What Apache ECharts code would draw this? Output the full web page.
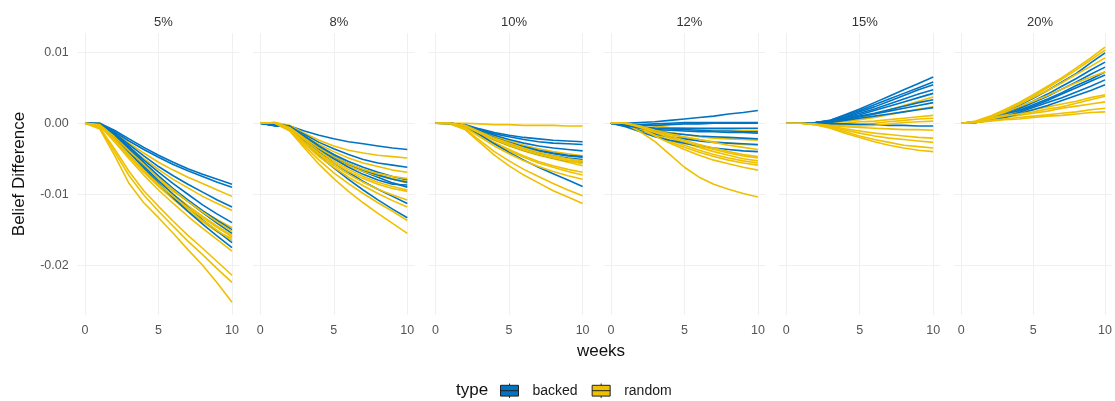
<!DOCTYPE html>
<html><head><meta charset="utf-8">
<script src="https://cdn.jsdelivr.net/npm/echarts@6/dist/echarts.min.js"></script>
<style>html,body{margin:0;padding:0;background:#fff}#c{width:1115px;height:401px}</style>
</head><body><div id="c"></div>
<script>
const weeks = [0,1,2,3,4,5,6,7,8,9,10];
const panels = ['5%','8%','10%','12%','15%','20%'];
const yTicks = [0.01, 0, -0.01, -0.02];
const xTicks = [0, 5, 10];

const backed_5 = [
 [0,0,-0.0010,-0.0022,-0.0034,-0.0045,-0.0055,-0.0064,-0.0072,-0.0079,-0.0086],
 [0,0,-0.0012,-0.0025,-0.0037,-0.0048,-0.0058,-0.0067,-0.0075,-0.0083,-0.0090],
 [0,-0.0002,-0.0014,-0.0030,-0.0046,-0.0061,-0.0074,-0.0086,-0.0097,-0.0108,-0.0118],
 [0,-0.0001,-0.0015,-0.0033,-0.0052,-0.0069,-0.0085,-0.0100,-0.0115,-0.0128,-0.0140],
 [0,-0.0002,-0.0017,-0.0036,-0.0056,-0.0075,-0.0093,-0.0110,-0.0126,-0.0141,-0.0155],
 [0,-0.0001,-0.0018,-0.0038,-0.0060,-0.0081,-0.0100,-0.0118,-0.0136,-0.0152,-0.0168],
 [0,-0.0002,-0.0020,-0.0041,-0.0063,-0.0085,-0.0105,-0.0124,-0.0142,-0.0159,-0.0175],
 [0,-0.0001,-0.0016,-0.0035,-0.0055,-0.0074,-0.0092,-0.0108,-0.0123,-0.0137,-0.0150]
];
const random_5 = [
 [0,0,-0.0013,-0.0028,-0.0042,-0.0055,-0.0066,-0.0076,-0.0085,-0.0094,-0.0103],
 [0,-0.0002,-0.0017,-0.0034,-0.0050,-0.0065,-0.0079,-0.0091,-0.0103,-0.0113,-0.0123],
 [0,-0.0003,-0.0022,-0.0042,-0.0062,-0.0080,-0.0096,-0.0110,-0.0124,-0.0136,-0.0147],
 [0,-0.0002,-0.0021,-0.0043,-0.0064,-0.0083,-0.0100,-0.0116,-0.0131,-0.0145,-0.0158],
 [0,-0.0003,-0.0024,-0.0047,-0.0069,-0.0089,-0.0107,-0.0124,-0.0139,-0.0153,-0.0162],
 [0,-0.0002,-0.0023,-0.0045,-0.0067,-0.0087,-0.0105,-0.0121,-0.0137,-0.0151,-0.0165],
 [0,-0.0004,-0.0026,-0.0050,-0.0073,-0.0094,-0.0113,-0.0131,-0.0148,-0.0164,-0.0180],
 [0,-0.0003,-0.0022,-0.0044,-0.0066,-0.0086,-0.0103,-0.0119,-0.0133,-0.0147,-0.0160],
 [0,-0.0006,-0.0036,-0.0068,-0.0095,-0.0117,-0.0138,-0.0158,-0.0176,-0.0195,-0.0214],
 [0,-0.0006,-0.0040,-0.0074,-0.0101,-0.0124,-0.0145,-0.0166,-0.0185,-0.0205,-0.0224],
 [0,-0.0008,-0.0045,-0.0085,-0.0112,-0.0133,-0.0155,-0.0178,-0.0200,-0.0225,-0.0252],
 [0,-0.0002,-0.0019,-0.0039,-0.0058,-0.0077,-0.0094,-0.0110,-0.0125,-0.0139,-0.0152]
];
const backed_8 = [
 [0,-0.0003,-0.0004,-0.0011,-0.0017,-0.0022,-0.0026,-0.0029,-0.0032,-0.0035,-0.0037],
 [0,-0.0004,-0.0005,-0.0016,-0.0027,-0.0036,-0.0044,-0.0051,-0.0056,-0.0059,-0.0062],
 [0,-0.0002,-0.0004,-0.0018,-0.0032,-0.0044,-0.0054,-0.0062,-0.0069,-0.0075,-0.0080],
 [0,-0.0003,-0.0005,-0.0020,-0.0035,-0.0048,-0.0059,-0.0068,-0.0076,-0.0084,-0.0090],
 [0,-0.0002,-0.0006,-0.0024,-0.0041,-0.0056,-0.0069,-0.0082,-0.0093,-0.0103,-0.0113],
 [0,-0.0003,-0.0006,-0.0027,-0.0046,-0.0063,-0.0079,-0.0094,-0.0108,-0.0121,-0.0133],
 [0,-0.0002,-0.0004,-0.0019,-0.0033,-0.0046,-0.0057,-0.0066,-0.0073,-0.0079,-0.0083],
 [0,-0.0003,-0.0005,-0.0021,-0.0037,-0.0050,-0.0062,-0.0072,-0.0080,-0.0086,-0.0087]
];
const random_8 = [
 [0,0.0001,-0.0003,-0.0014,-0.0024,-0.0032,-0.0038,-0.0042,-0.0045,-0.0047,-0.0049],
 [0,0,-0.0005,-0.0018,-0.0030,-0.0040,-0.0049,-0.0056,-0.0061,-0.0066,-0.0069],
 [0,0,-0.0006,-0.0022,-0.0036,-0.0048,-0.0058,-0.0066,-0.0073,-0.0078,-0.0082],
 [0,0.0001,-0.0007,-0.0024,-0.0038,-0.0050,-0.0060,-0.0068,-0.0074,-0.0079,-0.0084],
 [0,0,-0.0008,-0.0026,-0.0042,-0.0056,-0.0068,-0.0078,-0.0086,-0.0092,-0.0096],
 [0,0,-0.0009,-0.0029,-0.0047,-0.0062,-0.0076,-0.0088,-0.0099,-0.0109,-0.0118],
 [0,0,-0.0010,-0.0032,-0.0052,-0.0070,-0.0085,-0.0099,-0.0112,-0.0124,-0.0137],
 [0,0,-0.0011,-0.0035,-0.0058,-0.0078,-0.0096,-0.0112,-0.0127,-0.0141,-0.0155],
 [0,0,-0.0007,-0.0023,-0.0039,-0.0053,-0.0065,-0.0075,-0.0083,-0.0089,-0.0094],
 [0,0,-0.0008,-0.0027,-0.0044,-0.0059,-0.0072,-0.0083,-0.0093,-0.0101,-0.0108],
 [0,0.0001,-0.0006,-0.0021,-0.0035,-0.0047,-0.0057,-0.0065,-0.0071,-0.0075,-0.0078]
];
const backed_10 = [
 [0,0,-0.0002,-0.0008,-0.0013,-0.0017,-0.0020,-0.0022,-0.0024,-0.0025,-0.0026],
 [0,0,-0.0003,-0.0009,-0.0015,-0.0019,-0.0023,-0.0026,-0.0028,-0.0029,-0.0030],
 [0,0,-0.0003,-0.0010,-0.0017,-0.0023,-0.0028,-0.0032,-0.0035,-0.0037,-0.0039],
 [0,0,-0.0004,-0.0012,-0.0020,-0.0027,-0.0033,-0.0038,-0.0042,-0.0045,-0.0047],
 [0,0,-0.0004,-0.0013,-0.0022,-0.0030,-0.0037,-0.0042,-0.0046,-0.0049,-0.0051],
 [0,0,-0.0004,-0.0012,-0.0021,-0.0028,-0.0034,-0.0039,-0.0043,-0.0046,-0.0048],
 [0,-0.0001,-0.0005,-0.0016,-0.0029,-0.0041,-0.0052,-0.0062,-0.0071,-0.0080,-0.0089],
 [0,0,-0.0004,-0.0013,-0.0023,-0.0031,-0.0038,-0.0044,-0.0049,-0.0053,-0.0055]
];
const random_10 = [
 [0,0,0,-0.0001,-0.0002,-0.0002,-0.0003,-0.0003,-0.0003,-0.0004,-0.0004],
 [0,0,-0.0003,-0.0011,-0.0018,-0.0025,-0.0031,-0.0036,-0.0040,-0.0043,-0.0046],
 [0,0,-0.0004,-0.0014,-0.0024,-0.0032,-0.0039,-0.0045,-0.0050,-0.0055,-0.0060],
 [0,0,-0.0005,-0.0016,-0.0027,-0.0037,-0.0046,-0.0054,-0.0060,-0.0065,-0.0069],
 [0,0,-0.0005,-0.0017,-0.0029,-0.0039,-0.0048,-0.0056,-0.0062,-0.0068,-0.0073],
 [0,-0.0001,-0.0008,-0.0024,-0.0040,-0.0053,-0.0065,-0.0075,-0.0085,-0.0094,-0.0102],
 [0,-0.0001,-0.0009,-0.0027,-0.0045,-0.0060,-0.0073,-0.0084,-0.0095,-0.0104,-0.0113],
 [0,0,-0.0004,-0.0013,-0.0022,-0.0030,-0.0037,-0.0043,-0.0048,-0.0052,-0.0055],
 [0,0,-0.0003,-0.0012,-0.0021,-0.0028,-0.0035,-0.0041,-0.0046,-0.0050,-0.0053],
 [0,0,-0.0004,-0.0014,-0.0023,-0.0031,-0.0038,-0.0044,-0.0049,-0.0053,-0.0057],
 [0,0,-0.0006,-0.0019,-0.0032,-0.0043,-0.0053,-0.0061,-0.0068,-0.0074,-0.0079]
];
const backed_12 = [
 [0,0,0.0001,0.0002,0.0004,0.0006,0.0008,0.0010,0.0013,0.0015,0.0018],
 [0,-0.0001,-0.0002,-0.0001,0,0.0001,0.0001,0.0001,0.0001,0.0001,0.0001],
 [0,-0.0002,-0.0003,-0.0003,-0.0002,-0.0001,-0.0001,0,0,0,0],
 [0,-0.0003,-0.0006,-0.0007,-0.0007,-0.0007,-0.0007,-0.0007,-0.0007,-0.0007,-0.0007],
 [0,-0.0003,-0.0007,-0.0009,-0.0010,-0.0011,-0.0012,-0.0012,-0.0013,-0.0013,-0.0014],
 [0,-0.0004,-0.0010,-0.0015,-0.0019,-0.0022,-0.0025,-0.0027,-0.0028,-0.0029,-0.0030],
 [0,-0.0005,-0.0012,-0.0019,-0.0024,-0.0028,-0.0032,-0.0035,-0.0037,-0.0039,-0.0040],
 [0,-0.0002,-0.0005,-0.0007,-0.0008,-0.0009,-0.0010,-0.0011,-0.0011,-0.0012,-0.0012],
 [0,-0.0003,-0.0007,-0.0011,-0.0014,-0.0016,-0.0018,-0.0019,-0.0020,-0.0021,-0.0022]
];
const random_12 = [
 [0,0,-0.0002,-0.0004,-0.0006,-0.0007,-0.0008,-0.0009,-0.0009,-0.0010,-0.0010],
 [0,0,-0.0004,-0.0009,-0.0013,-0.0016,-0.0019,-0.0021,-0.0022,-0.0023,-0.0024],
 [0,0,-0.0005,-0.0011,-0.0016,-0.0020,-0.0023,-0.0026,-0.0028,-0.0030,-0.0031],
 [0,0,-0.0006,-0.0014,-0.0021,-0.0028,-0.0034,-0.0040,-0.0045,-0.0050,-0.0053],
 [0,-0.0001,-0.0007,-0.0016,-0.0024,-0.0031,-0.0038,-0.0044,-0.0049,-0.0053,-0.0056],
 [0,0,-0.0007,-0.0017,-0.0026,-0.0034,-0.0041,-0.0047,-0.0052,-0.0056,-0.0059],
 [0,-0.0001,-0.0008,-0.0018,-0.0028,-0.0037,-0.0045,-0.0052,-0.0057,-0.0062,-0.0066],
 [0,-0.0001,-0.0012,-0.0026,-0.0044,-0.0062,-0.0076,-0.0086,-0.0093,-0.0099,-0.0104],
 [0,0,-0.0006,-0.0013,-0.0020,-0.0026,-0.0032,-0.0037,-0.0042,-0.0046,-0.0049],
 [0,0,-0.0005,-0.0012,-0.0018,-0.0024,-0.0030,-0.0035,-0.0040,-0.0044,-0.0047],
 [0,0,-0.0004,-0.0010,-0.0015,-0.0019,-0.0023,-0.0027,-0.0031,-0.0034,-0.0037]
];
const backed_15 = [
 [0,0,0.0001,0.0004,0.0012,0.0020,0.0029,0.0038,0.0047,0.0056,0.0065],
 [0,0,0.0001,0.0004,0.0011,0.0018,0.0026,0.0034,0.0042,0.0050,0.0058],
 [0,0,0.0001,0.0003,0.0009,0.0016,0.0023,0.0031,0.0039,0.0047,0.0054],
 [0,0,0.0001,0.0003,0.0008,0.0014,0.0020,0.0027,0.0034,0.0041,0.0047],
 [0,0,0,0.0002,0.0007,0.0012,0.0018,0.0024,0.0030,0.0036,0.0042],
 [0,0,0,0.0002,0.0006,0.0010,0.0014,0.0019,0.0024,0.0029,0.0033],
 [0,0,0,0.0001,0.0004,0.0007,0.0010,0.0013,0.0016,0.0019,0.0022],
 [0,0,0,-0.0001,-0.0001,-0.0002,-0.0002,-0.0003,-0.0003,-0.0004,-0.0004],
 [0,0,0,0.0002,0.0005,0.0009,0.0013,0.0017,0.0021,0.0025,0.0029]
];
const random_15 = [
 [0,0,0,0.0001,0.0004,0.0008,0.0013,0.0019,0.0025,0.0031,0.0037],
 [0,0,0,0.0001,0.0002,0.0005,0.0008,0.0012,0.0016,0.0020,0.0023],
 [0,0,0,-0.0001,0,0.0002,0.0003,0.0005,0.0007,0.0009,0.0011],
 [0,0,-0.0001,-0.0002,-0.0002,-0.0001,0,0.0002,0.0004,0.0006,0.0007],
 [0,0,-0.0001,-0.0003,-0.0005,-0.0006,-0.0007,-0.0008,-0.0009,-0.0009,-0.0010],
 [0,0,-0.0001,-0.0004,-0.0008,-0.0011,-0.0014,-0.0016,-0.0018,-0.0020,-0.0021],
 [0,0,-0.0002,-0.0005,-0.0010,-0.0014,-0.0018,-0.0021,-0.0023,-0.0025,-0.0027],
 [0,0,-0.0002,-0.0006,-0.0012,-0.0018,-0.0023,-0.0027,-0.0031,-0.0033,-0.0035],
 [0,0,-0.0002,-0.0007,-0.0014,-0.0020,-0.0026,-0.0031,-0.0035,-0.0038,-0.0040],
 [0,0,-0.0001,-0.0003,-0.0004,-0.0004,-0.0003,-0.0001,0.0001,0.0002,0.0003]
];
const backed_20 = [
 [0,0.0002,0.0008,0.0015,0.0025,0.0035,0.0046,0.0058,0.0070,0.0085,0.0099],
 [0,0.0002,0.0007,0.0014,0.0022,0.0031,0.0041,0.0052,0.0063,0.0075,0.0086],
 [0,0.0001,0.0006,0.0012,0.0020,0.0029,0.0038,0.0048,0.0058,0.0069,0.0079],
 [0,0.0001,0.0006,0.0011,0.0018,0.0026,0.0034,0.0043,0.0053,0.0062,0.0072],
 [0,0.0001,0.0005,0.0010,0.0017,0.0024,0.0032,0.0041,0.0050,0.0059,0.0068],
 [0,0.0001,0.0005,0.0009,0.0015,0.0022,0.0029,0.0036,0.0044,0.0052,0.0061],
 [0,0.0001,0.0004,0.0008,0.0013,0.0019,0.0025,0.0032,0.0039,0.0046,0.0054]
];
const random_20 = [
 [0,0.0003,0.0010,0.0019,0.0029,0.0040,0.0052,0.0064,0.0078,0.0092,0.0107],
 [0,0.0002,0.0009,0.0018,0.0028,0.0038,0.0050,0.0062,0.0075,0.0089,0.0103],
 [0,0.0002,0.0009,0.0017,0.0026,0.0036,0.0046,0.0057,0.0069,0.0080,0.0092],
 [0,0.0002,0.0008,0.0015,0.0023,0.0031,0.0039,0.0048,0.0057,0.0065,0.0072],
 [0,0.0002,0.0007,0.0011,0.0015,0.0019,0.0023,0.0027,0.0031,0.0036,0.0040],
 [0,0.0001,0.0005,0.0008,0.0011,0.0014,0.0017,0.0021,0.0024,0.0027,0.0030],
 [0,0.0001,0.0004,0.0006,0.0008,0.0010,0.0012,0.0014,0.0016,0.0019,0.0021],
 [0,0.0001,0.0003,0.0005,0.0006,0.0008,0.0010,0.0011,0.0013,0.0015,0.0016],
 [0,0.0002,0.0006,0.0010,0.0013,0.0016,0.0020,0.0023,0.0028,0.0033,0.0038]
];

const backedByPanel = [backed_5, backed_8, backed_10, backed_12, backed_15, backed_20];
const randomByPanel = [random_5, random_8, random_10, random_12, random_15, random_20];

const BLUE = '#0073C2', YELLOW = '#EFC000';
const FONT = '"Liberation Sans", Arial, sans-serif';
const step = 175.3, x0 = 85, pxPerWeek = 14.7;
const grids = [], xAxes = [], yAxes = [], series = [], titles = [];
panels.forEach((p, i) => {
  const left = x0 + step * i - 0.5 * pxPerWeek;
  grids.push({ left: left, top: 33, width: 11 * pxPerWeek, height: 282, containLabel: false });
  xAxes.push({
    type: 'value', gridIndex: i, min: -0.5, max: 10.5,
    axisLine: { show: false }, axisTick: { show: false, customValues: xTicks },
    axisLabel: { customValues: xTicks, color: '#555', fontSize: 12.5, fontFamily: FONT, margin: 9 },
    splitLine: { show: true, lineStyle: { color: '#F0F0F0', width: 1 } }
  });
  yAxes.push({
    type: 'value', gridIndex: i, min: -0.027, max: 0.0127,
    axisLine: { show: false }, axisTick: { show: false, customValues: yTicks },
    axisLabel: { show: i === 0, customValues: yTicks, color: '#555', fontSize: 12.5, fontFamily: FONT, margin: 9,
      formatter: v => v.toFixed(2) },
    splitLine: { show: true, lineStyle: { color: '#F0F0F0', width: 1 } },
    name: i === 0 ? 'Belief Difference' : '', nameLocation: 'middle', nameRotate: 90, nameGap: 50,
    nameTextStyle: { color: '#111', fontSize: 17, fontFamily: FONT }
  });
  titles.push({ text: p, left: x0 + step * i + 5 * pxPerWeek, top: 11, textAlign: 'center',
    textStyle: { color: '#333', fontSize: 13, fontWeight: 'normal', fontFamily: FONT } });
  const b = backedByPanel[i], r = randomByPanel[i];
  const n = Math.max(b.length, r.length);
  for (let k = 0; k < n; k++) {
    [[b[k], 'backed', BLUE], [r[k], 'random', YELLOW]].forEach(([vals, name, col]) => {
      if (!vals) return;
      series.push({ type: 'line', name: name, xAxisIndex: i, yAxisIndex: i,
        data: weeks.map((w, j) => [w, vals[j]]), showSymbol: false, silent: true,
        lineStyle: { color: col, width: 1.6 }, itemStyle: { color: col }, z: 3 });
    });
  }
});
titles.push({ text: 'weeks', left: 596, top: 338, textAlign: 'center',
  textStyle: { color: '#111', fontSize: 17, fontWeight: 'normal', fontFamily: FONT } });
titles.push({ text: 'type', left: 451, top: 377,
  textStyle: { color: '#111', fontSize: 17, fontWeight: 'normal', fontFamily: FONT } });

const chart = echarts.init(document.getElementById('c'), null, { renderer: 'canvas' });
chart.setOption({
  animation: false, backgroundColor: '#fff',
  title: titles, grid: grids, xAxis: xAxes, yAxis: yAxes, series: series,
  legend: { data: ['backed', 'random'], left: 495, top: 378, itemWidth: 18, itemHeight: 16, itemGap: 14,
    icon: 'path://M0,2 L20,2 L20,14 L0,14 Z M0,8 L20,8 M10,0 L10,2 M10,14 L10,16',
    itemStyle: { borderColor: '#222', borderWidth: 1 },
    textStyle: { color: '#1A1A1A', fontSize: 14, fontFamily: FONT, padding: [0, 0, 0, 9] } }
});
</script></body></html>
